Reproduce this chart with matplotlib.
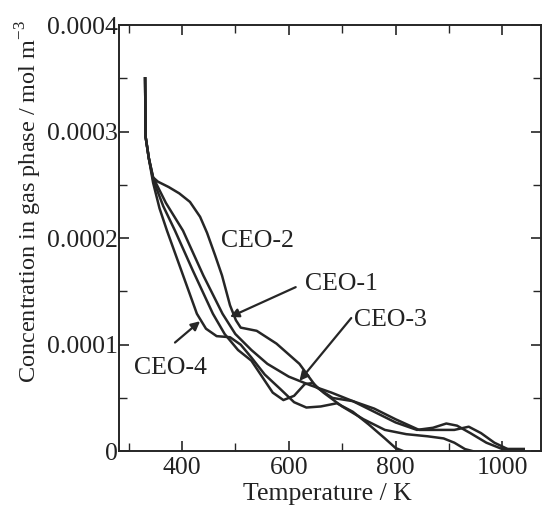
import numpy as np
import matplotlib.pyplot as plt
from matplotlib.ticker import MultipleLocator, FixedLocator

plt.rcParams['font.family'] = ['Liberation Serif', 'DejaVu Serif']
plt.rcParams['mathtext.fontset'] = 'custom'
plt.rcParams['mathtext.rm'] = 'Liberation Serif'

# temperature (K) and gas-phase concentration (mol m^-3) for each sample
t_ceo1 = [331, 332, 338, 346, 370, 402, 440, 476, 500, 530, 560, 600, 640, 680, 720,
          760, 800, 840, 870, 895, 915, 940, 970, 1000, 1040]
c_ceo1 = [3.5e-4, 2.95e-4, 2.75e-4, 2.57e-4, 2.33e-4, 2.07e-4, 1.65e-4, 1.29e-4, 1.1e-4,
          0.95e-4, 0.82e-4, 0.7e-4, 0.62e-4, 0.55e-4, 0.47e-4, 0.37e-4, 0.27e-4, 0.2e-4,
          0.22e-4, 0.26e-4, 0.24e-4, 0.17e-4, 0.08e-4, 0.02e-4, 0.02e-4]

t_ceo2 = [331, 332, 338, 346, 355, 375, 395, 415, 434, 447, 462, 475, 490, 501, 510, 540,
          577, 620, 652, 682, 720, 760, 800, 844, 880, 910, 937, 960, 985, 1010, 1040]
c_ceo2 = [3.5e-4, 2.95e-4, 2.75e-4, 2.57e-4, 2.53e-4, 2.48e-4, 2.42e-4, 2.34e-4, 2.2e-4,
          2.05e-4, 1.84e-4, 1.65e-4, 1.37e-4, 1.23e-4, 1.16e-4, 1.13e-4, 1.01e-4, 0.82e-4,
          0.6e-4, 0.5e-4, 0.47e-4, 0.4e-4, 0.3e-4, 0.2e-4, 0.2e-4, 0.2e-4, 0.23e-4, 0.17e-4,
          0.08e-4, 0.02e-4, 0.02e-4]

t_ceo3 = [331, 332, 338, 346, 365, 387, 420, 458, 480, 505, 530, 550, 570, 590, 610, 630,
          645, 665, 700, 740, 780, 820, 860, 890, 910, 930, 945]
c_ceo3 = [3.5e-4, 2.95e-4, 2.75e-4, 2.55e-4, 2.3e-4, 2.07e-4, 1.7e-4, 1.29e-4, 1.1e-4,
          0.95e-4, 0.85e-4, 0.7e-4, 0.55e-4, 0.48e-4, 0.52e-4, 0.63e-4, 0.64e-4, 0.55e-4,
          0.42e-4, 0.3e-4, 0.2e-4, 0.16e-4, 0.14e-4, 0.12e-4, 0.08e-4, 0.02e-4, 0.0]

t_ceo4 = [331, 332, 338, 346, 358, 372, 400, 428, 445, 465, 490, 510, 530, 555, 585, 610,
          633, 660, 690, 720, 750, 780, 800, 815]
c_ceo4 = [3.5e-4, 2.95e-4, 2.75e-4, 2.52e-4, 2.28e-4, 2.07e-4, 1.68e-4, 1.29e-4, 1.15e-4,
          1.08e-4, 1.07e-4, 1.0e-4, 0.88e-4, 0.72e-4, 0.58e-4, 0.46e-4, 0.41e-4, 0.42e-4,
          0.45e-4, 0.37e-4, 0.25e-4, 0.12e-4, 0.03e-4, 0.0]

fig = plt.figure(figsize=(5.43, 5.11), dpi=100)
ax = fig.add_axes([0.219, 0.117, 0.777, 0.834])

col = '#262626'
for t, c in [(t_ceo1, c_ceo1), (t_ceo2, c_ceo2), (t_ceo3, c_ceo3), (t_ceo4, c_ceo4)]:
    ax.plot(t, c, color=col, lw=1.8, solid_joinstyle='round')

ax.set_xlim(282, 1072)
ax.set_ylim(0, 0.0004)
ax.xaxis.set_major_locator(FixedLocator([400, 600, 800, 1000]))
ax.xaxis.set_minor_locator(MultipleLocator(100))
ax.yaxis.set_major_locator(FixedLocator([0, 0.0001, 0.0002, 0.0003, 0.0004]))
ax.yaxis.set_minor_locator(MultipleLocator(0.00005))
ax.set_yticklabels(['0', '0.0001', '0.0002', '0.0003', '0.0004'])
ax.tick_params(which='both', direction='in', top=True, right=True,
               labelsize=18.5, color=col, labelcolor='#222222')
ax.tick_params(axis='y', pad=1)
ax.tick_params(axis='x', pad=4)
ax.tick_params(which='major', length=7, width=1.2)
ax.tick_params(which='minor', length=6, width=1.0)
for s in ax.spines.values():
    s.set_linewidth(1.4)
    s.set_color(col)

ax.set_xlabel('Temperature / K', fontsize=18.5, color='#222222')
ax.set_ylabel('Concentration in gas phase / mol m$^{\\mathregular{-3}}$',
              fontsize=17.5, color='#222222')
ax.xaxis.set_label_coords(0.495, -0.075)
ax.yaxis.set_label_coords(-0.178, 0.587)

# sample labels with pointer arrows
txt = dict(fontsize=18.5, color='#222222', ha='center', va='center')
arr = dict(arrowstyle='-|>', color=col, lw=1.6, mutation_scale=13, shrinkA=0, shrinkB=0)
ax.text(542, 1.97e-4, 'CEO-2', **txt)
ax.annotate('', xy=(490, 1.26e-4), xytext=(613, 1.54e-4), arrowprops=arr)
ax.text(698, 1.57e-4, 'CEO-1', **txt)
ax.annotate('', xy=(620, 0.66e-4), xytext=(717, 1.25e-4), arrowprops=arr)
ax.text(790, 1.23e-4, 'CEO-3', **txt)
ax.annotate('', xy=(434, 1.22e-4), xytext=(387, 1.02e-4), arrowprops=arr)
ax.text(378, 0.78e-4, 'CEO-4', **txt)

fig.savefig('out.png', dpi=100)
